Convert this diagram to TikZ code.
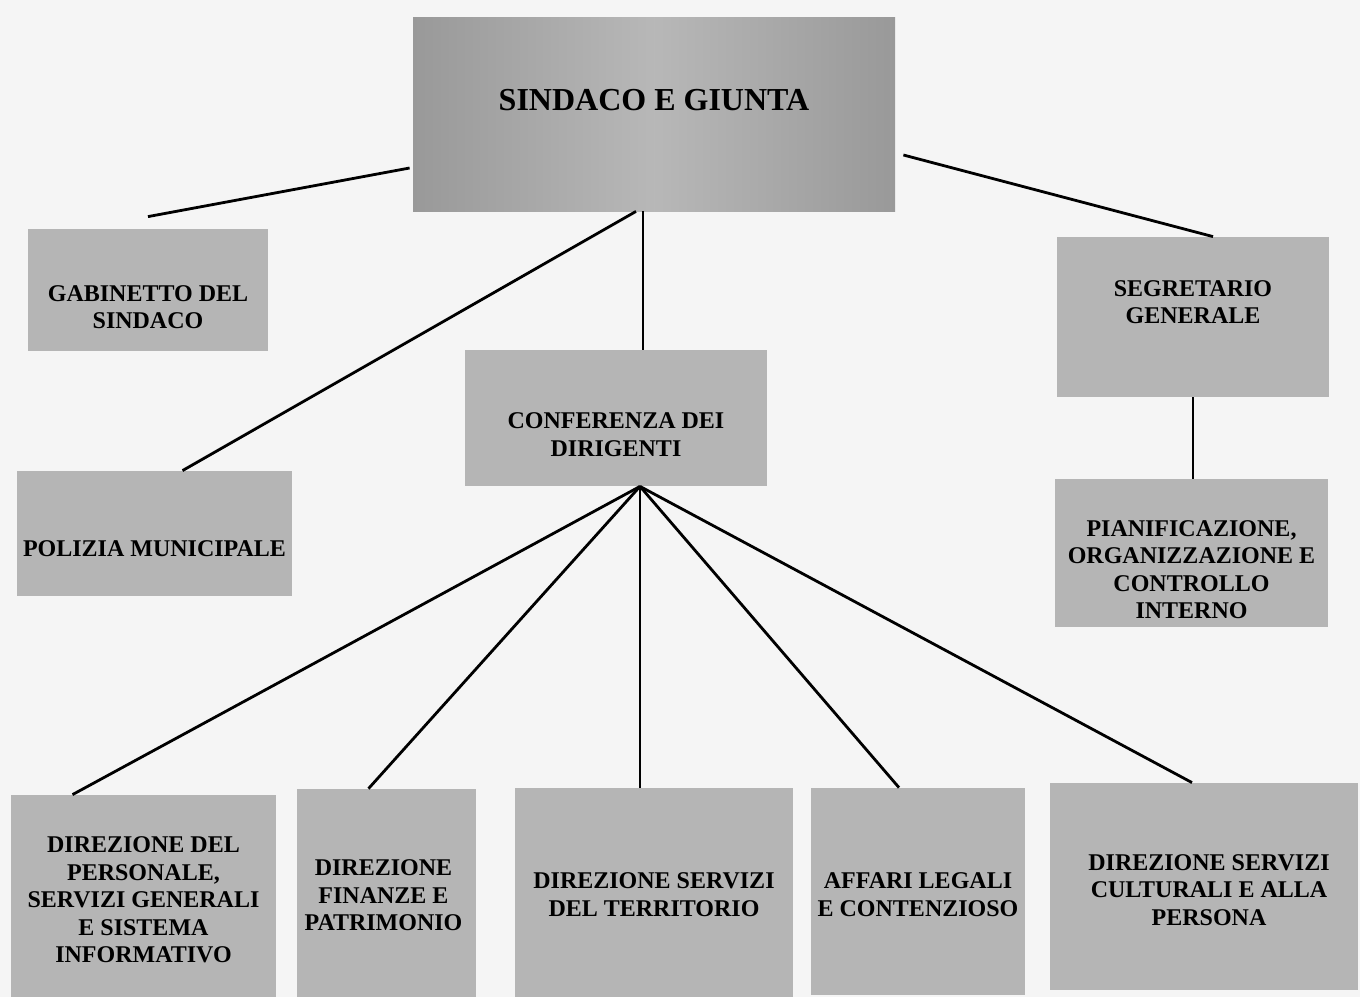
\documentclass[tikz,border=0pt]{standalone}
\usepackage{fontspec}
\setmainfont{Liberation Serif}
\usetikzlibrary{calc,positioning}
\definecolor{paper}{gray}{0.96}
\definecolor{boxgray}{gray}{0.71}
\definecolor{topdark}{gray}{0.6}
\definecolor{toplight}{gray}{0.72}

\begin{document}
\begin{tikzpicture}[x=0.5pt, y=-0.5pt,
    box/.style={fill=boxgray, inner sep=0pt},
    dim/.style 2 args={minimum width=#1*0.5pt, minimum height=#2*0.5pt},
    txt/.style={align=center, font=\fontsize{12}{13.75}\selectfont\bfseries},
    link/.style={line width=1.4pt}]
    \useasboundingbox (0,0) rectangle (1360,997);
    \fill[paper] (0,0) rectangle (1360,997);

    \node[box, dim={482}{194}, left color=topdark, right color=topdark, middle color=toplight,
        label={[txt, font=\fontsize{16}{19}\selectfont\bfseries, yshift=7pt]center:SINDACO E GIUNTA}] (sg) at (654,114) {};
    \node[box, dim={240}{122}, label={[txt, yshift=-8.5pt]center:GABINETTO DEL\\SINDACO}] (gab) at (148,290) {};
    \node[box, dim={275}{125}, label={[txt, yshift=-7.75pt]center:POLIZIA MUNICIPALE}] (pol) at (154.5,533.5) {};
    \node[box, dim={302}{136}, label={[txt, yshift=-8.25pt]center:CONFERENZA DEI\\DIRIGENTI}] (conf) at (616,418) {};
    \node[box, dim={272}{160}, label={[txt, yshift=7.5pt]center:SEGRETARIO\\GENERALE}] (seg) at (1193,317) {};
    \node[box, dim={273}{148}, label={[txt, yshift=-8.25pt]center:PIANIFICAZIONE,\\ORGANIZZAZIONE E\\CONTROLLO\\INTERNO}] (pian) at (1191.5,553) {};

    \node[box, dim={265}{202}, label={[txt, yshift=-2pt]center:DIREZIONE DEL\\PERSONALE,\\SERVIZI GENERALI\\E SISTEMA\\INFORMATIVO}] (pers) at (143.5,896) {};
    \node[box, dim={179}{208}, label={[txt, xshift=-1.5pt, yshift=-1.3pt]center:DIREZIONE\\FINANZE E\\PATRIMONIO}] (fin) at (386.5,893) {};
    \node[box, dim={278}{209}, label={[txt, yshift=-1pt]center:DIREZIONE SERVIZI\\DEL TERRITORIO}] (terr) at (654,892.5) {};
    \node[box, dim={214}{207}, label={[txt, yshift=-1.5pt]center:AFFARI LEGALI\\E CONTENZIOSO}] (aff) at (918,891.5) {};
    \node[box, dim={308}{207}, label={[txt, xshift=2.5pt, yshift=-1.6pt]center:DIREZIONE SERVIZI\\CULTURALI E ALLA\\PERSONA}] (cult) at (1204,886.5) {};

    \coordinate (drop) at ([xshift=-5.5pt]sg.south);
    \coordinate (hub) at ([xshift=12pt]conf.south);
    \draw[link]
    ([shift={(-1.5pt,-27pt)}]sg.west) edge ([yshift=6pt]gab.north)
    ([shift={(4pt,-20.5pt)}]sg.east) edge ([xshift=10pt]seg.north)
    ([xshift=-9pt]sg.south) edge ([xshift=14pt]pol.north)
    (drop) edge (drop |- conf.north)
    (seg.south) edge (seg.south |- pian.north)
    (hub) edge ([xshift=-35.5pt]pers.north)
    (hub) edge ([xshift=-9pt]fin.north)
    (hub) edge ([xshift=-7pt]terr.north)
    (hub) edge ([xshift=-9.5pt]aff.north)
    (hub) edge ([xshift=-6pt]cult.north);
\end{tikzpicture}
\end{document}
